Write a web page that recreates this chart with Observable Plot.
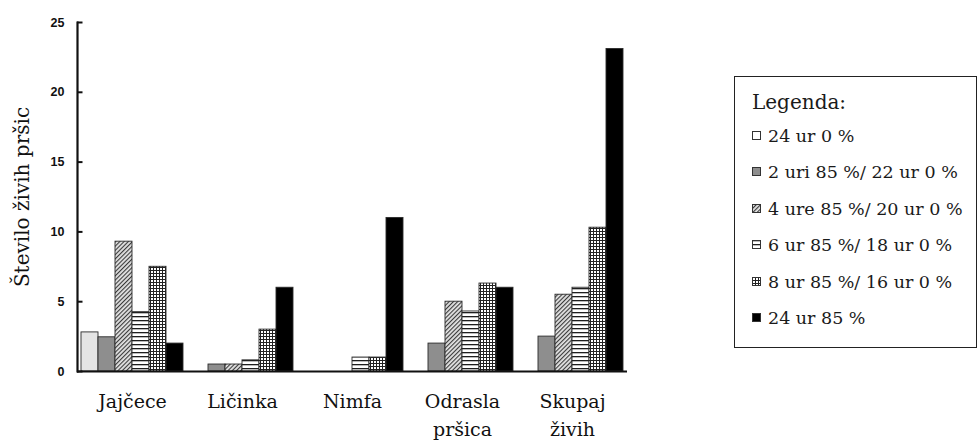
<!DOCTYPE html>
<html>
<head>
<meta charset="utf-8">
<script src="https://cdn.jsdelivr.net/npm/d3@7"></script>
<script src="https://cdn.jsdelivr.net/npm/@observablehq/plot@0.6"></script>
<style>
  body { margin: 0; background: #fff; }
  #wrap { position: relative; width: 979px; height: 441px; overflow: hidden; }
  #wrap svg.chart g[aria-label="y-axis label"],
  #wrap svg.chart g[aria-label="y-axis label"] text { font-family: "DejaVu Serif"; font-size: 20px; font-weight: normal; fill: #111; }
  #wrap svg.chart g[aria-label="y-axis tick label"],
  #wrap svg.chart g[aria-label="y-axis tick label"] text { font-family: "Liberation Sans"; font-size: 12.5px; font-weight: bold; fill: #111; }
  #legend { position: absolute; left: 734px; top: 76px; width: 243px; height: 272px;
            border: 1.5px solid #222; box-sizing: border-box; font-family: "DejaVu Serif"; color: #1a1a1a; }
  #legend .title { position: absolute; left: 17px; top: 13px; font-size: 20px; line-height: 24px; white-space: nowrap; }
  #legend .row { position: absolute; left: 17px; font-size: 17.5px; line-height: 36px; white-space: nowrap; }
  #legend .row svg { vertical-align: 2px; margin-right: 7px; }
</style>
</head>
<body>
<div id="wrap"></div>
<script>
// ---- data ----
const groups = ["Jajčece", "Ličinka", "Nimfa", "Odrasla\npršica", "Skupaj\nživih"];
const series = ["24 ur 0 %", "2 uri 85 %/ 22 ur 0 %", "4 ure 85 %/ 20 ur 0 %", "6 ur 85 %/ 18 ur 0 %", "8 ur 85 %/ 16 ur 0 %", "24 ur 85 %"];
const s24ur0   = [2.8, 0,   0,    0,   0];
const s2uri85  = [2.45, 0.5, 0,   2.0, 2.5];
const s4ure85  = [9.3, 0.5, 0,    5.0, 5.5];
const s6ur85   = [4.25, 0.8, 1.0, 4.3, 6.0];
const s8ur85   = [7.5, 3.0, 1.0,  6.3, 10.3];
const s24ur85  = [2.0, 6.0, 11.0, 6.0, 23.1];
const yTicks = [0, 5, 10, 15, 20, 25];
const legendTitle = "Legenda:";
const yLabel = "Število živih pršic";

const values = [s24ur0, s2uri85, s4ure85, s6ur85, s8ur85, s24ur85];
const data = [];
groups.forEach((g, i) => series.forEach((s, j) => data.push({group: g, series: s, value: values[j][i]})));

const fills = ["#e4e4e4", "#8e8e8e", "url(#pDiag)", "url(#pHoriz)", "url(#pGrid)", "#000"];

const defs = `
<defs>
  <pattern id="pDiag" width="3" height="3" patternUnits="userSpaceOnUse" patternTransform="rotate(45)">
    <rect width="3" height="3" fill="#e2e2e2"></rect>
    <rect width="1.1" height="3" fill="#3a3a3a"></rect>
  </pattern>
  <pattern id="pHoriz" width="4" height="4" patternUnits="userSpaceOnUse">
    <rect width="4" height="4" fill="#fff"></rect>
    <rect y="0" width="4" height="1.3" fill="#1e1e1e"></rect>
  </pattern>
  <pattern id="pGrid" width="3" height="3" patternUnits="userSpaceOnUse">
    <rect width="3" height="3" fill="#fff"></rect>
    <rect width="3" height="1" fill="#222"></rect>
    <rect width="1" height="3" fill="#222"></rect>
  </pattern>
</defs>`;

const chart = Plot.plot({
  width: 979,
  height: 441,
  marginLeft: 77,
  marginRight: 352,
  marginTop: 22,
  marginBottom: 70,
  style: {background: "transparent", color: "#111"},
  fx: {domain: groups, padding: 0, label: null},
  x: {domain: series, paddingInner: 0, paddingOuter: 0.235, axis: null},
  y: {domain: [0, 25], label: null},
  color: {type: "ordinal", domain: series, range: fills},
  marks: [
    Plot.barY(data.filter(d => d.value > 0), {fx: "group", x: "series", y: "value", fill: "series", stroke: "#2a2a2a", strokeWidth: 0.9}),
    Plot.ruleY([0], {stroke: "#111", strokeWidth: 2.2}),
    Plot.frame({anchor: "left", facetAnchor: "left", stroke: "#111", strokeWidth: 2.2}),
    // inward tick marks on the left axis (drawn in the first group's panel)
    Plot.ruleY(yTicks, {y: d => d, fx: () => groups[0], insetRight: 104.5, stroke: "#111", strokeWidth: 2}),
    // tick labels + axis title
    Plot.axisY({ticks: yTicks, tickSize: 0, tickPadding: 13, fontSize: 12.5, fontWeight: "bold",
                fontFamily: "Liberation Sans", label: yLabel, labelAnchor: "center", labelArrow: "none", labelOffset: 63}),
    Plot.axisFx({anchor: "bottom", tickSize: 0, tickPadding: 16, fontSize: 19, fontFamily: "DejaVu Serif", lineHeight: 1.5, label: null})
  ]
});
chart.classList.add("chart");
chart.insertAdjacentHTML("afterbegin", defs);
const wrap = document.getElementById("wrap");
wrap.appendChild(chart);

// legend
const legend = document.createElement("div");
legend.id = "legend";
const t = document.createElement("div");
t.className = "title";
t.textContent = legendTitle;
legend.appendChild(t);
series.forEach((s, j) => {
  const row = document.createElement("div");
  row.className = "row";
  row.style.top = (41 + j * 36.4) + "px";
  const fill = j === 0 ? "#fff" : fills[j];
  row.innerHTML = `<svg width="9" height="9"><rect x="0.5" y="0.5" width="8" height="8" fill="${fill}" stroke="#333" stroke-width="1"></rect></svg>`;
  row.appendChild(document.createTextNode(s));
  legend.appendChild(row);
});
wrap.appendChild(legend);
</script>
</body>
</html>
